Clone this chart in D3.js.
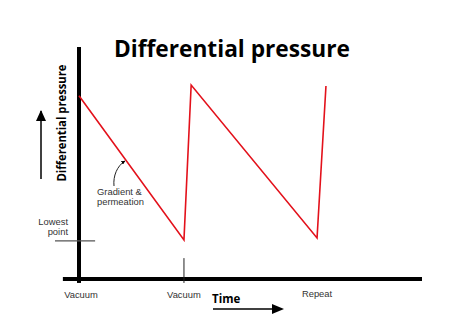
<!DOCTYPE html>
<html><head><meta charset="utf-8">
<script src="https://cdn.jsdelivr.net/npm/d3@7"></script>
<style>body{margin:0;background:#fff}svg{display:block}</style>
</head><body>
<script>
// Data (arbitrary time units / pressure units)
const pointTimes = [0, 3.06, 3.27, 6.94, 7.2];
const pointPressures = [7.9, 1.68, 8.36, 1.77, 8.32];
const lowestPoint = 1.64;
const tickLabels = ["Vacuum", "Vacuum", "Repeat"];
const tickTimes = [0, 3.06, 6.94];

const W = 450, H = 325;
const svg = d3.select("body").append("svg").attr("width", W).attr("height", H);
const x = d3.scaleLinear().domain([0, 10]).range([79, 422]);
const y = d3.scaleLinear().domain([0, 10]).range([279, 47]);
const font = "'Open Sans', 'Noto Sans', sans-serif";
const labelFont = "'Liberation Sans', Arial, sans-serif";
const small = 9.4;

// title
svg.append("text").attr("x", 232).attr("y", 57).attr("text-anchor", "middle")
  .attr("font-family", font).attr("font-weight", "bold").attr("font-size", 23)
  .attr("textLength", 236).attr("lengthAdjust", "spacingAndGlyphs")
  .text("Differential pressure");

// axes
svg.append("line").attr("x1", x(0)).attr("x2", x(0)).attr("y1", y(10)).attr("y2", y(-0.17))
  .attr("stroke", "#000").attr("stroke-width", 4);
svg.append("line").attr("x1", x(-0.47)).attr("x2", x(10)).attr("y1", y(0)).attr("y2", y(0))
  .attr("stroke", "#000").attr("stroke-width", 4);

// vacuum tick
svg.append("line").attr("x1", x(tickTimes[1])).attr("x2", x(tickTimes[1]))
  .attr("y1", y(0.9)).attr("y2", y(-0.17)).attr("stroke", "#222").attr("stroke-width", 1);

// lowest point line
svg.append("line").attr("x1", x(-0.7)).attr("x2", x(0.47)).attr("y1", y(lowestPoint)).attr("y2", y(lowestPoint))
  .attr("stroke", "#555").attr("stroke-width", 1.2);

// red line
const line = d3.line().x((d, i) => x(pointTimes[i])).y(d => y(d));
svg.append("path").datum(pointPressures).attr("d", line)
  .attr("fill", "none").attr("stroke", "#e3111b").attr("stroke-width", 1.6).attr("stroke-linejoin", "miter");

// tick labels
const tickY = [298, 298, 297];
tickLabels.forEach((t, i) => {
  svg.append("text").attr("x", x(tickTimes[i]) + (i === 0 ? 2 : 0)).attr("y", tickY[i])
    .attr("text-anchor", "middle").attr("font-family", labelFont).attr("font-size", small)
    .attr("fill", "#333").text(t);
});

// Lowest point label
svg.append("text").attr("x", 68).attr("y", 225).attr("text-anchor", "end")
  .attr("font-family", labelFont).attr("font-size", small).attr("fill", "#333").text("Lowest");
svg.append("text").attr("x", 68).attr("y", 235).attr("text-anchor", "end")
  .attr("font-family", labelFont).attr("font-size", small).attr("fill", "#333").text("point");

// Gradient & permeation
svg.append("text").attr("x", 97).attr("y", 195)
  .attr("font-family", labelFont).attr("font-size", small).attr("fill", "#333").text("Gradient &");
svg.append("text").attr("x", 97).attr("y", 205)
  .attr("font-family", labelFont).attr("font-size", small).attr("fill", "#333").text("permeation");

// arrow markers
const defs = svg.append("defs");
defs.append("marker").attr("id", "ah").attr("viewBox", "0 0 10 10").attr("refX", 9).attr("refY", 5)
  .attr("markerWidth", 4).attr("markerHeight", 4).attr("orient", "auto")
  .append("path").attr("d", "M0,0L10,5L0,10z").attr("fill", "#000");

// curved arrow
svg.append("path").attr("d", "M114,186 C113,176 117,166 125,161")
  .attr("fill", "none").attr("stroke", "#222").attr("stroke-width", 1).attr("marker-end", "url(#ah)");

// y axis label
svg.append("text").attr("transform", "translate(66,123) rotate(-90)").attr("text-anchor", "middle")
  .attr("font-family", font).attr("font-weight", "bold").attr("font-size", 12.5)
  .attr("textLength", 117).attr("lengthAdjust", "spacingAndGlyphs")
  .text("Differential pressure");

// up arrow
svg.append("line").attr("x1", 41).attr("x2", 41).attr("y1", 179).attr("y2", 111)
  .attr("stroke", "#000").attr("stroke-width", 1.5);
svg.append("path").attr("d", "M36,121 L41,110 L46,121 Z").attr("fill", "#000");

// Time label
svg.append("text").attr("x", 212).attr("y", 303)
  .attr("font-family", font).attr("font-weight", "bold").attr("font-size", 11.5).text("Time");
svg.append("line").attr("x1", 213).attr("x2", 276).attr("y1", 309).attr("y2", 309)
  .attr("stroke", "#000").attr("stroke-width", 1.5);
svg.append("path").attr("d", "M272,304 L284,309 L272,314 Z").attr("fill", "#000");
</script>
</body></html>
